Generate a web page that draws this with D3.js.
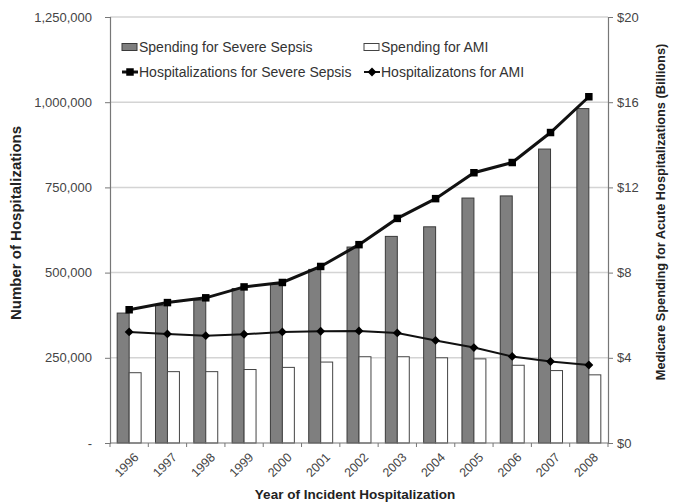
<!DOCTYPE html>
<html>
<head>
<meta charset="utf-8">
<script src="https://cdn.jsdelivr.net/npm/d3@7"></script>
<style>
  body { margin: 0; background: #fff; }
  text { font-family: "Liberation Sans", Arial, sans-serif; }
</style>
</head>
<body>
<div id="chart"></div>
<script>
var years = ["1996", "1997", "1998", "1999", "2000", "2001", "2002", "2003", "2004", "2005", "2006", "2007", "2008"];
// spending, billions of dollars (right axis)
var spendSepsis = [6.1, 6.45, 6.7, 7.25, 7.45, 8.15, 9.2, 9.7, 10.15, 11.5, 11.6, 13.8, 15.7];
var spendAMI = [3.3, 3.35, 3.35, 3.45, 3.55, 3.8, 4.05, 4.05, 4.0, 3.95, 3.65, 3.4, 3.2];
// hospitalizations (left axis)
var hospSepsis = [391000, 412000, 426000, 458000, 471000, 518000, 582000, 659000, 717000, 793000, 823000, 911000, 1016000];
var hospAMI = [326000, 320000, 315000, 319000, 326000, 328000, 329000, 323000, 301000, 280000, 254000, 239000, 229000];
var leftTicks = [0, 250000, 500000, 750000, 1000000, 1250000];
var rightTicks = [0, 4, 8, 12, 16, 20];

var width = 676, height = 502;
var margin = { top: 17, right: 68, bottom: 59, left: 110 };

var svg = d3.select("#chart").append("svg")
    .attr("width", width)
    .attr("height", height);

var x = d3.scaleBand()
    .domain(years)
    .range([margin.left, width - margin.right]);

var xInner = d3.scaleBand()
    .domain(["sepsis", "ami"])
    .range([0, x.bandwidth()])
    .paddingOuter(0.6);

var yLeft = d3.scaleLinear()
    .domain([0, 1250000])
    .range([height - margin.bottom, margin.top]);

var yRight = d3.scaleLinear()
    .domain([0, 20])
    .range([height - margin.bottom, margin.top]);

// gridlines
svg.append("g")
    .selectAll("line")
    .data(leftTicks.slice(1))
    .enter().append("line")
    .attr("x1", margin.left)
    .attr("x2", width - margin.right)
    .attr("y1", function (d) { return yLeft(d); })
    .attr("y2", function (d) { return yLeft(d); })
    .attr("stroke", "#d4d4d4")
    .attr("stroke-width", 1.5);

// bars
var groups = svg.append("g")
    .selectAll("g")
    .data(years)
    .enter().append("g")
    .attr("transform", function (d) { return "translate(" + x(d) + ",0)"; });

groups.append("rect")
    .attr("x", xInner("sepsis"))
    .attr("width", xInner.bandwidth())
    .attr("y", function (d, i) { return yRight(spendSepsis[i]); })
    .attr("height", function (d, i) { return yRight(0) - yRight(spendSepsis[i]); })
    .attr("fill", "#7f7f7f")
    .attr("stroke", "#3a3a3a")
    .attr("stroke-width", 1);

groups.append("rect")
    .attr("x", xInner("ami"))
    .attr("width", xInner.bandwidth())
    .attr("y", function (d, i) { return yRight(spendAMI[i]); })
    .attr("height", function (d, i) { return yRight(0) - yRight(spendAMI[i]); })
    .attr("fill", "#fff")
    .attr("stroke", "#444")
    .attr("stroke-width", 1);

// axes
var xAxis = svg.append("g")
    .attr("transform", "translate(0," + yLeft(0) + ")");
xAxis.append("line")
    .attr("x1", margin.left).attr("x2", width - margin.right)
    .attr("stroke", "#777").attr("stroke-width", 1.2);
xAxis.selectAll(".tk")
    .data(years.concat(["end"]))
    .enter().append("line")
    .attr("x1", function (d, i) { return margin.left + i * x.step(); })
    .attr("x2", function (d, i) { return margin.left + i * x.step(); })
    .attr("y1", 0).attr("y2", 4)
    .attr("stroke", "#777");
xAxis.selectAll("text")
    .data(years)
    .enter().append("text")
    .attr("transform", function (d) {
        return "translate(" + (x(d) + x.bandwidth() / 2 + 4) + ",9) rotate(-45)";
    })
    .attr("text-anchor", "end")
    .attr("dy", "0.7em")
    .attr("font-size", 12.5)
    .attr("fill", "#444")
    .text(function (d) { return d; });

var leftAxis = svg.append("g")
    .attr("transform", "translate(" + margin.left + ",0)")
    .call(d3.axisLeft(yLeft)
        .tickValues(leftTicks)
        .tickSize(5)
        .tickPadding(13)
        .tickFormat(function (d) { return d === 0 ? "-" : d3.format(",")(d); }));

var rightAxis = svg.append("g")
    .attr("transform", "translate(" + (width - margin.right) + ",0)")
    .call(d3.axisRight(yRight)
        .tickValues(rightTicks)
        .tickSize(5)
        .tickPadding(4)
        .tickFormat(function (d) { return "$" + d; }));

[leftAxis, rightAxis].forEach(function (g) {
    g.select(".domain").attr("stroke", "#777").attr("stroke-width", 1.2);
    g.selectAll(".tick line").attr("stroke", "#777");
    g.selectAll(".tick text")
        .attr("font-family", "Liberation Sans, Arial, sans-serif")
        .attr("font-size", 13)
        .attr("fill", "#444");
});

// lines
var lineL = d3.line()
    .x(function (d, i) { return x(years[i]) + x.bandwidth() / 2; })
    .y(function (d) { return yLeft(d); });

svg.append("path")
    .datum(hospAMI)
    .attr("d", lineL)
    .attr("fill", "none")
    .attr("stroke", "#111")
    .attr("stroke-width", 2);

svg.append("path")
    .datum(hospSepsis)
    .attr("d", lineL)
    .attr("fill", "none")
    .attr("stroke", "#111")
    .attr("stroke-width", 3);

var diamond = d3.symbol().type(d3.symbolDiamond2).size(50);
var square = d3.symbol().type(d3.symbolSquare).size(56);

svg.append("g").selectAll("path")
    .data(hospAMI)
    .enter().append("path")
    .attr("d", diamond)
    .attr("transform", function (d, i) {
        return "translate(" + (x(years[i]) + x.bandwidth() / 2) + "," + yLeft(d) + ")";
    })
    .attr("fill", "#000");

svg.append("g").selectAll("path")
    .data(hospSepsis)
    .enter().append("path")
    .attr("d", square)
    .attr("transform", function (d, i) {
        return "translate(" + (x(years[i]) + x.bandwidth() / 2) + "," + yLeft(d) + ")";
    })
    .attr("fill", "#000");

// legend
var legend = svg.append("g").attr("font-size", 14).attr("fill", "#333");

legend.append("rect").attr("x", 122).attr("y", 43.5).attr("width", 15).attr("height", 7)
    .attr("fill", "#7f7f7f").attr("stroke", "#3a3a3a");
legend.append("text").attr("x", 139).attr("y", 52).text("Spending for Severe Sepsis");

legend.append("rect").attr("x", 364).attr("y", 43.5).attr("width", 15).attr("height", 7)
    .attr("fill", "#fff").attr("stroke", "#444");
legend.append("text").attr("x", 381).attr("y", 52).text("Spending for AMI");

legend.append("line").attr("x1", 122).attr("x2", 138).attr("y1", 72).attr("y2", 72)
    .attr("stroke", "#111").attr("stroke-width", 3);
legend.append("path").attr("d", square).attr("transform", "translate(130,72)").attr("fill", "#000");
legend.append("text").attr("x", 139).attr("y", 77).text("Hospitalizations for Severe Sepsis");

legend.append("line").attr("x1", 364).attr("x2", 380).attr("y1", 72).attr("y2", 72)
    .attr("stroke", "#111").attr("stroke-width", 2);
legend.append("path").attr("d", diamond).attr("transform", "translate(372,72)").attr("fill", "#000");
legend.append("text").attr("x", 381).attr("y", 77).text("Hospitalizatons for AMI");

// axis titles
svg.append("text")
    .attr("transform", "translate(21,223) rotate(-90)")
    .attr("text-anchor", "middle")
    .attr("font-size", 15)
    .attr("font-weight", "bold")
    .attr("fill", "#222")
    .text("Number of Hospitalizations");

svg.append("text")
    .attr("transform", "translate(665,212) rotate(-90)")
    .attr("text-anchor", "middle")
    .attr("font-size", 12.8)
    .attr("font-weight", "bold")
    .attr("fill", "#222")
    .text("Medicare Spending for Acute Hospitalizations (Billions)");

svg.append("text")
    .attr("x", 355)
    .attr("y", 499)
    .attr("text-anchor", "middle")
    .attr("font-size", 13.5)
    .attr("font-weight", "bold")
    .attr("fill", "#222")
    .text("Year of Incident Hospitalization");
</script>
</body>
</html>
